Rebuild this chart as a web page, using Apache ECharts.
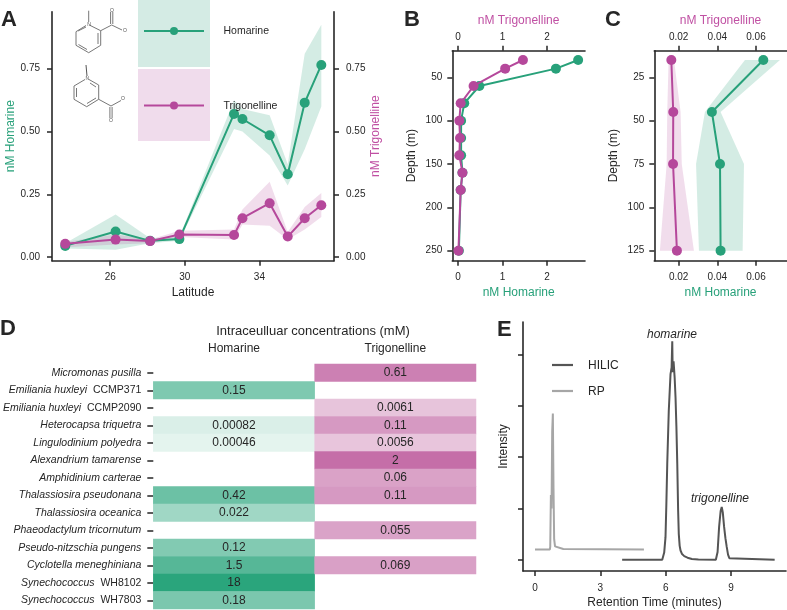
<!DOCTYPE html>
<html>
<head>
<meta charset="utf-8">
<style>html,body{margin:0;padding:0;background:#fff}#c{width:787px;height:610px}</style>
<script src="https://cdn.jsdelivr.net/npm/echarts@6/dist/echarts.min.js"></script>
</head>
<body>
<div id="c"></div>
<script>
// ---------- Data ----------
const latitude = [23.59, 26.29, 28.14, 29.71, 32.64, 33.09, 34.55, 35.52, 36.43, 37.32];
const aHomarine = [0.045, 0.102, 0.065, 0.072, 0.57, 0.55, 0.485, 0.33, 0.615, 0.765];
const aHomarineLow = [0.035, 0.03, 0.055, 0.065, 0.51, 0.5, 0.405, 0.285, 0.43, 0.6];
const aHomarineHigh = [0.055, 0.17, 0.075, 0.08, 0.625, 0.59, 0.565, 0.37, 0.81, 0.925];
const aTrigonelline = [0.053, 0.07, 0.064, 0.09, 0.088, 0.155, 0.215, 0.082, 0.155, 0.207];
const aTrigonellineLow = [0.04, 0.05, 0.055, 0.08, 0.07, 0.13, 0.125, 0.07, 0.11, 0.16];
const aTrigonellineHigh = [0.06, 0.09, 0.07, 0.105, 0.11, 0.19, 0.3, 0.1, 0.2, 0.255];
const latTicks = [26, 30, 34];
const aYTicks = [0, 0.25, 0.5, 0.75];

const bDepth = [30, 40, 60, 80, 100, 120, 140, 160, 180, 250];
const bHomarine = [2.7, 2.2, 0.48, 0.14, 0.07, 0.07, 0.07, 0.1, 0.06, 0.02];
const bTrigonelline = [1.46, 1.06, 0.35, 0.06, 0.03, 0.045, 0.03, 0.1, 0.06, 0.01];
const bXTicks = [0, 1, 2];
const bYTicks = [50, 100, 150, 200, 250];

const cDepth = [15, 45, 75, 125];
const cHomarine = [0.0638, 0.0372, 0.0414, 0.0417];
const cHomarineLow = [0.0543, 0.0336, 0.029, 0.0305];
const cHomarineHigh = [0.0724, 0.0417, 0.0538, 0.0531];
const cTrigonelline = [0.0162, 0.0172, 0.0171, 0.0191];
const cTrigonellineLow = [0.0148, 0.0141, 0.0138, 0.0103];
const cTrigonellineHigh = [0.0176, 0.021, 0.0216, 0.0279];
const cXTicks = [0.02, 0.04, 0.06];
const cYTicks = [25, 50, 75, 100, 125];

const species = ['Micromonas pusilla', 'Emiliania huxleyi|CCMP371', 'Emiliania huxleyi|CCMP2090', 'Heterocapsa triquetra',
  'Lingulodinium polyedra', 'Alexandrium tamarense', 'Amphidinium carterae', 'Thalassiosira pseudonana',
  'Thalassiosira oceanica', 'Phaeodactylum tricornutum', 'Pseudo-nitzschia pungens', 'Cyclotella meneghiniana',
  'Synechococcus|WH8102', 'Synechococcus|WH7803'];
const compounds = ['Homarine', 'Trigonelline'];
const dHomarine = [null, 0.15, null, 0.00082, 0.00046, null, null, 0.42, 0.022, null, 0.12, 1.5, 18, 0.18];
const dTrigonelline = [0.61, null, 0.0061, 0.11, 0.0056, 2, 0.06, 0.11, null, 0.055, null, 0.069, null, null];

const hilicTime = [4, 5.84, 5.88, 5.93, 5.99, 6.03, 6.07, 6.14, 6.22, 6.27, 6.3, 6.32, 6.36, 6.41, 6.45, 6.49, 6.53, 6.57, 6.6, 6.64, 6.68, 6.75, 6.85, 7, 7.2, 7.5, 8.3, 8.34, 8.38, 8.45, 8.52, 8.57, 8.62, 8.68, 8.74, 8.8, 8.86, 8.92, 9, 11];
const hilicSignal = [0, 0, 0.03, 0.14, 0.44, 1.1, 1.87, 2.9, 3.62, 3.75, 4.26, 3.66, 3.87, 3.55, 3.17, 2.6, 1.87, 0.95, 0.5, 0.27, 0.18, 0.11, 0.07, 0.04, 0.015, 0.005, 0, 0.02, 0.15, 0.64, 0.95, 1.03, 0.92, 0.64, 0.42, 0.25, 0.1, 0.03, 0.005, 0];
const rpTime = [0, 0.68, 0.7, 0.73, 0.76, 0.79, 0.82, 0.85, 0.88, 0.92, 1, 1.3, 5];
const rpSignal = [0.2, 0.2, 0.25, 1.26, 1.0, 2.5, 2.85, 1.4, 0.4, 0.26, 0.23, 0.21, 0.2];
const eXTicks = [0, 3, 6, 9];
const eYTicks = [0, 1, 2, 3, 4];

// ---------- Style ----------
const FONT = '"Liberation Sans", Arial, sans-serif';
const INK = '#262626', GREEN = '#28a17a', PURPLE = '#b5489b', PURPLE_TXT = '#c050a3';
const GREEN_BAND = 'rgba(40,161,122,0.2)', PURPLE_BAND = 'rgba(181,72,155,0.19)';

function zip(a, b) { return a.map((v, i) => [v, b[i]]); }

function axis(o) {
  const base = {
    type: 'value', gridIndex: o.grid, position: o.position, min: o.min, max: o.max, inverse: !!o.inverse,
    name: o.name, nameLocation: 'middle', nameGap: o.gap,
    nameTextStyle: { color: o.nameColor || INK, fontFamily: FONT, fontSize: 12 },
    splitLine: { show: false },
    axisLine: { show: true, onZero: false, lineStyle: { color: INK, width: 1.6 } },
    axisTick: { show: o.ticks !== null, length: 5, inside: false, lineStyle: { color: INK, width: 1.5 }, customValues: o.ticks || [] },
    axisLabel: { show: !o.noLabels, margin: o.margin, color: INK, fontFamily: FONT, fontSize: 10, customValues: o.ticks || [],
      formatter: o.fmt || (v => String(v)) }
  };
  return base;
}

function line(name, xs, ys, color, gx, gy, z) {
  return { type: 'line', name, xAxisIndex: gx, yAxisIndex: gy, data: zip(xs, ys), symbol: 'circle', symbolSize: 10,
    showSymbol: true, lineStyle: { color, width: 2 }, itemStyle: { color }, z: z, silent: true, clip: false };
}

// band between low and high along a key array; vertical=true means the key is on y
function band(keys, lows, highs, fill, gx, gy, vertical) {
  const rows = keys.map((k, i) => [k, lows[i], highs[i]]);
  return { type: 'custom', xAxisIndex: gx, yAxisIndex: gy, data: rows, silent: true, z: 1,
    encode: vertical ? { y: 0, x: [1, 2] } : { x: 0, y: [1, 2] },
    renderItem(params, api) {
      if (params.dataIndexInside !== 0) return null;
      const toPt = vertical ? (k, v) => api.coord([v, k]) : (k, v) => api.coord([k, v]);
      const up = rows.map(r => toPt(r[0], r[2]));
      const lo = rows.map(r => toPt(r[0], r[1])).reverse();
      return { type: 'polygon', shape: { points: up.concat(lo) }, style: { fill } };
    } };
}

function mix(hex, t) {
  const n = parseInt(hex.slice(1), 16), c = [n >> 16, (n >> 8) & 255, n & 255];
  return 'rgb(' + c.map(v => Math.round(255 + (v - 255) * t)).join(',') + ')';
}
const homShade = v => mix('#2aa57c', (Math.log10(v) + 4) / 5.255);
const trigShade = v => mix('#c56ea8', 0.929 + 0.235 * Math.log10(v));
function cells(values, col, shade) {
  return values.map((v, row) => v === null ? null : ({ value: [col, row, v], itemStyle: { color: shade(v) } })).filter(Boolean);
}

// ---------- Graphic helpers (panel letters, structures, legend keys) ----------
function txt(x, y, text, font, fill, align, rot) {
  return { type: 'text', x, y, rotation: rot || 0, z: 5, silent: true,
    style: { text, font, fill: fill || INK, align: align || 'left', verticalAlign: 'middle' } };
}
function poly(pts, stroke, w) {
  return { type: 'polyline', z: 5, silent: true, shape: { points: pts }, style: { stroke: stroke || '#777', lineWidth: w || 1, fill: null } };
}
function box(x, y, w, h, fill) {
  return { type: 'rect', z: 0, silent: true, shape: { x, y, width: w, height: h }, style: { fill } };
}
const LETTER = 'bold 22px ' + FONT;
const gfx = [
  txt(1, 20, 'A', LETTER), txt(404, 20, 'B', LETTER), txt(605, 20, 'C', LETTER), txt(0, 329, 'D', LETTER), txt(497, 330, 'E', LETTER),
  // Panel A key
  box(138, 0, 72, 67, '#d4ebe4'), box(138, 69, 72, 72, '#f0dcec'),
  poly([[144, 31], [204, 31]], GREEN, 2), { type: 'circle', z: 5, silent: true, shape: { cx: 174, cy: 31, r: 4 }, style: { fill: GREEN } },
  poly([[144, 105.5], [204, 105.5]], PURPLE, 2), { type: 'circle', z: 5, silent: true, shape: { cx: 174, cy: 105.5, r: 4 }, style: { fill: PURPLE } },
  txt(223.5, 31, 'Homarine', '10.5px ' + FONT), txt(223.5, 106, 'Trigonelline', '10.5px ' + FONT),
  // Homarine structure
  poly([[89.3, 25], [100.7, 30.7], [100.7, 45.3], [88.7, 52.7], [76, 45.3], [76, 31.7], [86, 25.5]]),
  poly([[98, 33], [98, 44]]), poly([[87, 49.5], [78.5, 44.5]]), poly([[78, 31], [86, 27]]),
  poly([[88.7, 22], [88.7, 10.7]]), poly([[100.7, 30.7], [111.7, 25], [122, 30]]),
  poly([[110.6, 24], [110.6, 12]]), poly([[112.8, 24], [112.8, 12]]),
  txt(89, 25, 'N', '5px ' + FONT, '#555', 'center'), txt(112, 10.5, 'O', '5px ' + FONT, '#555', 'center'), txt(125, 31, 'O', '5px ' + FONT, '#555', 'center'),
  // Trigonelline structure
  poly([[89, 79.5], [98.7, 85], [98.7, 99.3], [86.7, 106.7], [74, 99.3], [74, 86], [85, 79.5]]),
  poly([[96, 87], [90, 83]]), poly([[96, 98], [87, 103.5]]), poly([[76.5, 97], [76.5, 88]]),
  poly([[87, 76], [86, 65]], '#555'), poly([[98.7, 99.3], [111, 106], [121, 100.5]]),
  poly([[109.9, 107], [109.9, 118]]), poly([[112.1, 107], [112.1, 118]]),
  txt(87.3, 78.3, 'N', '5px ' + FONT, '#555', 'center'), txt(111, 120.5, 'O', '5px ' + FONT, '#555', 'center'), txt(123, 99, 'O', '5px ' + FONT, '#555', 'center'),
  // Panel D titles
  txt(313, 331, 'Intraceulluar concentrations (mM)', '13px ' + FONT, INK, 'center'),
  // Panel E key and annotations
  poly([[552, 365], [573, 365]], '#555', 2.2), poly([[552, 391], [573, 391]], '#a6a6a6', 2.2),
  txt(588, 365.5, 'HILIC', '12px ' + FONT), txt(588, 391.5, 'RP', '12px ' + FONT),
  txt(672, 335, 'homarine', 'italic 12px ' + FONT, INK, 'center'),
  txt(720, 499, 'trigonelline', 'italic 12px ' + FONT, INK, 'center')
];

// ---------- Chart ----------
const grids = [
  { left: 52, top: 11.7, width: 282, height: 249 },
  { left: 452.3, top: 50.7, width: 132.7, height: 210 },
  { left: 654.3, top: 50.7, width: 132.4, height: 210 },
  { left: 149.5, top: 364, width: 326.5, height: 245 },
  { left: 523, top: 322, width: 263, height: 249 }
];
const pct = v => v.toFixed(2);
const xAxes = [
  axis({ grid: 0, position: 'bottom', min: 22.88, max: 38, ticks: latTicks, margin: 12, name: 'Latitude', gap: 26 }),
  axis({ grid: 1, position: 'bottom', min: -0.128, max: 2.854, ticks: bXTicks, margin: 12, name: 'nM Homarine', nameColor: GREEN, gap: 26 }),
  axis({ grid: 1, position: 'top', min: -0.128, max: 2.854, ticks: bXTicks, margin: 8, name: 'nM Trigonelline', nameColor: PURPLE_TXT, gap: 24 }),
  axis({ grid: 2, position: 'bottom', min: 0.0074, max: 0.0759, ticks: cXTicks, margin: 12, name: 'nM Homarine', nameColor: GREEN, gap: 26, fmt: pct }),
  axis({ grid: 2, position: 'top', min: 0.0074, max: 0.0759, ticks: cXTicks, margin: 8, name: 'nM Trigonelline', nameColor: PURPLE_TXT, gap: 24, fmt: pct }),
  { type: 'category', gridIndex: 3, position: 'top', data: compounds, axisLine: { show: false }, axisTick: { show: false },
    axisLabel: { margin: 9, color: INK, fontFamily: FONT, fontSize: 12 }, splitLine: { show: false } },
  axis({ grid: 4, position: 'bottom', min: -0.55, max: 11.52, ticks: eXTicks, margin: 12, name: 'Retention Time (minutes)', gap: 26 })
];
const yAxes = [
  axis({ grid: 0, position: 'left', min: -0.014, max: 0.977, ticks: aYTicks, margin: 12, name: 'nM Homarine', nameColor: GREEN, gap: 35, fmt: pct }),
  axis({ grid: 0, position: 'right', min: -0.014, max: 0.977, ticks: aYTicks, margin: 12, name: 'nM Trigonelline', nameColor: PURPLE_TXT, gap: 35, fmt: pct }),
  axis({ grid: 1, position: 'left', min: 19.3, max: 261.5, inverse: true, ticks: bYTicks, margin: 10, name: 'Depth (m)', gap: 35 }),
  axis({ grid: 2, position: 'left', min: 9.65, max: 130.8, inverse: true, ticks: cYTicks, margin: 10, name: 'Depth (m)', gap: 35 }),
  { type: 'category', gridIndex: 3, position: 'left', inverse: true, data: species, axisLine: { show: false },
    axisTick: { show: true, alignWithLabel: true, length: 6, lineStyle: { color: INK, width: 1.5 } }, splitLine: { show: false },
    axisLabel: { margin: 12, interval: 0, color: INK, fontFamily: FONT, fontSize: 10.5,
      formatter: v => { const p = v.split('|'); return p[1] ? '{i|' + p[0] + '}{n|  ' + p[1] + '}' : '{i|' + p[0] + '}'; },
      rich: { i: { fontStyle: 'italic', fontFamily: FONT, fontSize: 10.5, color: INK }, n: { fontFamily: FONT, fontSize: 10.5, color: INK } } } },
  axis({ grid: 4, position: 'left', min: -0.22, max: 4.636, ticks: eYTicks, noLabels: true, margin: 10, name: 'Intensity', gap: 13 })
];

const series = [
  band(latitude, aHomarineLow, aHomarineHigh, GREEN_BAND, 0, 0, false),
  band(latitude, aTrigonellineLow, aTrigonellineHigh, PURPLE_BAND, 0, 0, false),
  line('Homarine', latitude, aHomarine, GREEN, 0, 0, 3),
  line('Trigonelline', latitude, aTrigonelline, PURPLE, 0, 0, 4),
  line('Homarine', bHomarine, bDepth, GREEN, 1, 2, 3),
  line('Trigonelline', bTrigonelline, bDepth, PURPLE, 2, 2, 4),
  band(cDepth, cHomarineLow, cHomarineHigh, GREEN_BAND, 3, 3, true),
  band(cDepth, cTrigonellineLow, cTrigonellineHigh, PURPLE_BAND, 4, 3, true),
  line('Homarine', cHomarine, cDepth, GREEN, 3, 3, 3),
  line('Trigonelline', cTrigonelline, cDepth, PURPLE, 4, 3, 4),
  { type: 'heatmap', xAxisIndex: 5, yAxisIndex: 4, silent: true,
    data: cells(dHomarine, 0, homShade).concat(cells(dTrigonelline, 1, trigShade)),
    label: { show: true, color: INK, fontFamily: FONT, fontSize: 12, formatter: p => String(p.value[2]) } },
  { type: 'line', name: 'RP', xAxisIndex: 6, yAxisIndex: 5, data: zip(rpTime, rpSignal), showSymbol: false, symbol: 'none',
    lineStyle: { color: '#a6a6a6', width: 2 }, silent: true, z: 2 },
  { type: 'line', name: 'HILIC', xAxisIndex: 6, yAxisIndex: 5, data: zip(hilicTime, hilicSignal), showSymbol: false, symbol: 'none',
    lineStyle: { color: '#555555', width: 2 }, silent: true, z: 3 }
];

const chart = echarts.init(document.getElementById('c'), null, { renderer: 'canvas' });
chart.setOption({
  animation: false, backgroundColor: '#ffffff', textStyle: { fontFamily: FONT },
  grid: grids, xAxis: xAxes, yAxis: yAxes, series, graphic: gfx
});
</script>
</body>
</html>
